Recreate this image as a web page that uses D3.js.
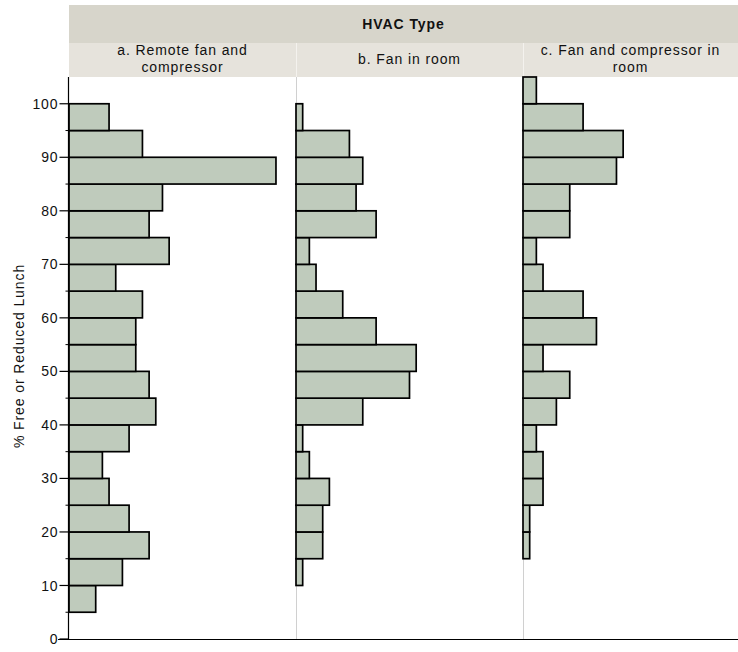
<!DOCTYPE html>
<html>
<head>
<meta charset="utf-8">
<script src="https://cdn.jsdelivr.net/npm/d3@7"></script>
<style>
  html, body { margin: 0; padding: 0; background: #fff; }
  svg { display: block; font-family: "Liberation Sans", Arial, sans-serif; }
  text { letter-spacing: 0.9px; }
</style>
</head>
<body>
<svg id="chart" width="738" height="652"></svg>
<script>
// ---- data ----
const binStarts = [5,10,15,20,25,30,35,40,45,50,55,60,65,70,75,80,85,90,95,100];
const panelTitles = [["a. Remote fan and", "compressor"], ["b. Fan in room"], ["c. Fan and compressor in", "room"]];
const countsRemote = [4,8,12,9,6,5,9,13,12,10,10,11,7,15,12,14,31,11,6,0];
const countsFanRoom = [0,1,4,4,5,2,1,10,17,18,12,7,3,2,12,9,10,8,1,0];
const countsFanComp = [0,0,1,1,3,3,2,5,7,3,11,9,3,2,7,7,14,15,9,2];
const yTicks = [0,10,20,30,40,50,60,70,80,90,100];
const headerTitle = "HVAC Type";
const yLabel = "% Free or Reduced Lunch";

const series = [countsRemote, countsFanRoom, countsFanComp];

// ---- layout ----
const svg = d3.select("#chart");
const mLeft = 69, mTop = 77, mBottom = 639;
const panelW = 227;
const binW = 5;

const y = d3.scaleLinear().domain([0, 105]).range([mBottom, mTop]);
const x = d3.scaleLinear().domain([0, 34]).range([0, panelW]);

// header bands
svg.append("rect").attr("x", mLeft).attr("y", 5).attr("width", 738 - mLeft).attr("height", 38).attr("fill", "#d7d5cb");
svg.append("rect").attr("x", mLeft).attr("y", 43).attr("width", 738 - mLeft).attr("height", 34).attr("fill", "#e6e3dc");
svg.append("text").attr("x", (mLeft + 738) / 2).attr("y", 29).attr("text-anchor", "middle")
  .attr("font-size", 14).attr("font-weight", "bold").attr("fill", "#111").text(headerTitle);

panelTitles.forEach((lines, i) => {
  const x0 = mLeft + i * panelW;
  const x1 = Math.min(x0 + panelW, 738);
  const cx = (x0 + x1) / 2;
  if (i > 0) {
    svg.append("line").attr("x1", x0 + 0.5).attr("x2", x0 + 0.5).attr("y1", 43).attr("y2", 77).attr("stroke", "#f4f2ee");
    svg.append("line").attr("x1", x0 + 0.5).attr("x2", x0 + 0.5).attr("y1", 77).attr("y2", mBottom).attr("stroke", "#d0d0d0");
  }
  const t = svg.append("text").attr("text-anchor", "middle").attr("font-size", 14).attr("fill", "#111");
  if (lines.length === 1) {
    t.append("tspan").attr("x", cx).attr("y", 64).text(lines[0]);
  } else {
    lines.forEach((l, j) => t.append("tspan").attr("x", cx).attr("y", 55 + j * 17).text(l));
  }
});

// bars
series.forEach((counts, i) => {
  const g = svg.append("g").attr("transform", `translate(${mLeft + i * panelW},0)`);
  g.selectAll("rect").data(binStarts.map((b, k) => ({ b, c: counts[k] })).filter(d => d.c > 0))
    .join("rect")
    .attr("x", x(0))
    .attr("y", d => y(d.b + binW))
    .attr("width", d => x(d.c) - x(0))
    .attr("height", d => y(d.b) - y(d.b + binW))
    .attr("fill", "#bfcbbc")
    .attr("stroke", "#000")
    .attr("stroke-width", 1.7);
});

// bottom line
svg.append("line").attr("x1", 58).attr("x2", 738).attr("y1", mBottom + 0.5).attr("y2", mBottom + 0.5).attr("stroke", "#000").attr("stroke-width", 1.2);

// y axis
const axisG = svg.append("g").attr("transform", `translate(${mLeft - 0.5},0)`);
axisG.append("line").attr("x1", 0).attr("x2", 0).attr("y1", mTop).attr("y2", mBottom).attr("stroke", "#000").attr("stroke-width", 1.2);
const minorTicks = d3.range(5, 105, 10);
axisG.selectAll("line.minor").data(minorTicks).join("line").attr("class", "minor")
  .attr("x1", -3).attr("x2", 0).attr("y1", d => y(d)).attr("y2", d => y(d)).attr("stroke", "#000");
axisG.selectAll("line.major").data(yTicks).join("line").attr("class", "major")
  .attr("x1", -9).attr("x2", 0).attr("y1", d => y(d)).attr("y2", d => y(d)).attr("stroke", "#000").attr("stroke-width", 1.2);
axisG.selectAll("text").data(yTicks).join("text")
  .attr("x", -10).attr("y", d => y(d)).attr("dy", "0.36em").attr("text-anchor", "end")
  .attr("font-size", 14).attr("fill", "#111").text(d => d);

svg.append("text").attr("transform", `translate(24,356) rotate(-90)`).attr("text-anchor", "middle")
  .attr("font-size", 14).attr("fill", "#111").text(yLabel);
</script>
</body>
</html>
